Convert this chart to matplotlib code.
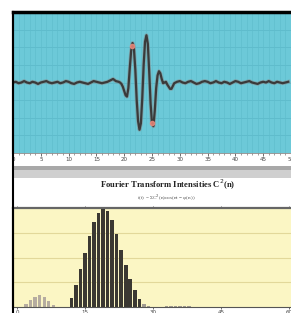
import matplotlib
matplotlib.use("Agg")
import matplotlib.pyplot as plt
from matplotlib.lines import Line2D
from matplotlib.patches import Rectangle

# ---- waveform f(t) ----
t_pre = [i * 0.5 for i in range(38)]  # 0 .. 18.5
f_pre = [0.00, 0.01, -0.01, 0.00, 0.02, 0.00, -0.01, 0.01, 0.00, -0.02,
         0.00, 0.01, 0.02, 0.00, -0.01, 0.00, 0.01, -0.01, 0.00, 0.02,
         0.01, -0.01, -0.02, 0.00, 0.01, 0.00, -0.01, -0.02, 0.00, 0.02,
         0.01, 0.00, -0.01, 0.00, 0.01, 0.03, 0.05, 0.02]
t_packet = [19.0 + i * 0.25 for i in range(41)]  # 19 .. 29
f_packet = [0.01, 0.00, -0.02, -0.06, -0.12, -0.18, -0.20, -0.08, 0.20, 0.45,
            0.56, 0.48, 0.18, -0.25, -0.55, -0.67, -0.58, -0.22, 0.25, 0.58,
            0.67, 0.55, 0.15, -0.30, -0.58, -0.62, -0.40, -0.08, 0.10, 0.16,
            0.13, 0.05, -0.01, 0.00, 0.01, -0.03, -0.06, -0.09, -0.09, -0.05,
            -0.01]
t_post = [29.5 + i * 0.5 for i in range(41)]  # 29.5 .. 49.5
f_post = [0.01, 0.02, 0.00, -0.01, 0.01, 0.02, 0.00, -0.02, -0.01, 0.01,
          0.02, 0.01, -0.01, 0.00, 0.02, 0.00, -0.01, 0.01, 0.00, -0.02,
          0.00, 0.02, 0.01, -0.01, 0.00, 0.01, 0.02, 0.00, -0.01, -0.02,
          0.00, 0.01, 0.00, 0.02, 0.00, -0.01, 0.01, 0.00, -0.01, 0.00,
          0.01]
t_wave = t_pre + t_packet + t_post
f_wave = f_pre + f_packet + f_post

# highlighted samples (salmon dots)
t_mark = [21.45, 25.05]
f_mark = [0.52, -0.57]

wave_ticks = list(range(0, 51, 5))

# ---- Fourier intensities C^2(n) ----
n_main = list(range(12, 28))
c2_main = [0.09, 0.22, 0.38, 0.55, 0.72, 0.86, 0.95, 0.99,
           0.97, 0.88, 0.74, 0.58, 0.42, 0.28, 0.17, 0.08]
n_low = [2, 3, 4, 5, 6, 7, 8]
c2_low = [0.03, 0.07, 0.10, 0.12, 0.10, 0.06, 0.02]
n_tail = [28, 29, 33, 34, 35, 36, 37, 38]
c2_tail = [0.03, 0.01, 0.01, 0.015, 0.01, 0.015, 0.01, 0.01]
spec_ticks = [0, 15, 30, 45, 60]

title = "Fourier Transform Intensities C$^2$(n)"
subtitle = "f(t) = \u03a3C$^2$(n)cos(nt \u2212 \u03c6(n))"

W, H = 291, 313
fig = plt.figure(figsize=(W / 100, H / 100), dpi=100)
fig.patch.set_facecolor("white")


def fx(px):
    return px / W


def fy(py):
    return 1 - py / H


# ---------- top panel ----------
ax1 = fig.add_axes([fx(13), fy(153), 1 - fx(13), (153 - 12) / H])
ax1.set_facecolor("#6cc9d8")
ax1.set_xlim(0.2, 49.6)
ax1.set_ylim(-1, 1)
for v in range(1, 50):
    ax1.axvline(v, color="#62c0cf", lw=0.6, zorder=0)
for h in [-0.75, -0.5, -0.25, 0, 0.25, 0.5, 0.75]:
    ax1.axhline(h, color="#5fbccc", lw=0.7, zorder=0)
ax1.plot(t_wave, f_wave, color="#8a8a8a", lw=2.8, alpha=0.55, zorder=2)
ax1.plot(t_wave, f_wave, color="#3a3a3a", lw=1.6, zorder=3)
ax1.plot(t_mark, f_mark, "o", ms=3, color="#e8887a", alpha=0.85, zorder=4)
ax1.set_xticks(wave_ticks)
ax1.set_xticks(range(0, 50), minor=True)
ax1.set_yticks([])
ax1.tick_params(axis="x", which="major", length=2, width=0.6, pad=1,
                labelsize=4, labelcolor="#444444", color="#555555")
ax1.tick_params(axis="x", which="minor", length=1.2, width=0.5,
                color="#777777")
ax1.spines["right"].set_visible(False)
ax1.spines["top"].set_color("black")
ax1.spines["top"].set_linewidth(2.5)
ax1.spines["left"].set_color("black")
ax1.spines["left"].set_linewidth(1.5)
ax1.spines["bottom"].set_color("#888888")
ax1.spines["bottom"].set_linewidth(0.6)

# gray band
fig.patches.append(Rectangle((fx(13), fy(178)), 1, 12 / H,
                             transform=fig.transFigure,
                             facecolor="#cfcfcf", edgecolor="none"))
fig.patches.append(Rectangle((fx(13), fy(170)), 1, 4 / H,
                             transform=fig.transFigure,
                             facecolor="#a8a8a8", edgecolor="none"))

# titles
fig.text(fx(168), fy(185), title, ha="center", va="center",
         family="Liberation Serif", fontweight="bold", fontsize=6.2,
         color="#222222")
fig.text(fx(166), fy(198), subtitle, ha="center", va="center",
         family="Liberation Serif", fontsize=3.8, color="#555555")

# ---------- bottom panel ----------
ax2 = fig.add_axes([fx(13), fy(307), 1 - fx(13), (307 - 208) / H])
ax2.set_facecolor("#fbf6c4")
ax2.set_xlim(-0.9, 60.5)
ax2.set_ylim(0, 1.0)
for h in [0.25, 0.5, 0.75]:
    ax2.axhline(h, color="#e2d89a", lw=0.8, zorder=0)
ax2.bar(n_low, c2_low, width=0.75, color="#b5aca0", edgecolor="none",
        zorder=2)
ax2.bar(n_tail, c2_tail, width=0.75, color="#a09a90", edgecolor="none",
        zorder=2)
ax2.bar(n_main, c2_main, width=0.8, color="#3b3832", edgecolor="none",
        zorder=3)
ax2.set_xticks(spec_ticks)
ax2.set_yticks([])
ax2.tick_params(axis="x", length=1.5, width=0.6, pad=0.5, labelsize=4,
                labelcolor="#444444", color="#555555", top=True)
ax2.spines["right"].set_visible(False)
ax2.spines["top"].set_color("#666666")
ax2.spines["top"].set_linewidth(1.6)
ax2.spines["left"].set_color("black")
ax2.spines["left"].set_linewidth(1.5)
ax2.spines["bottom"].set_color("#555555")
ax2.spines["bottom"].set_linewidth(0.8)

# continuous left frame line
fig.lines.append(Line2D([fx(13), fx(13)], [fy(12), 0],
                        transform=fig.transFigure, color="black", lw=1.5))

fig.savefig("out.png", dpi=100)
